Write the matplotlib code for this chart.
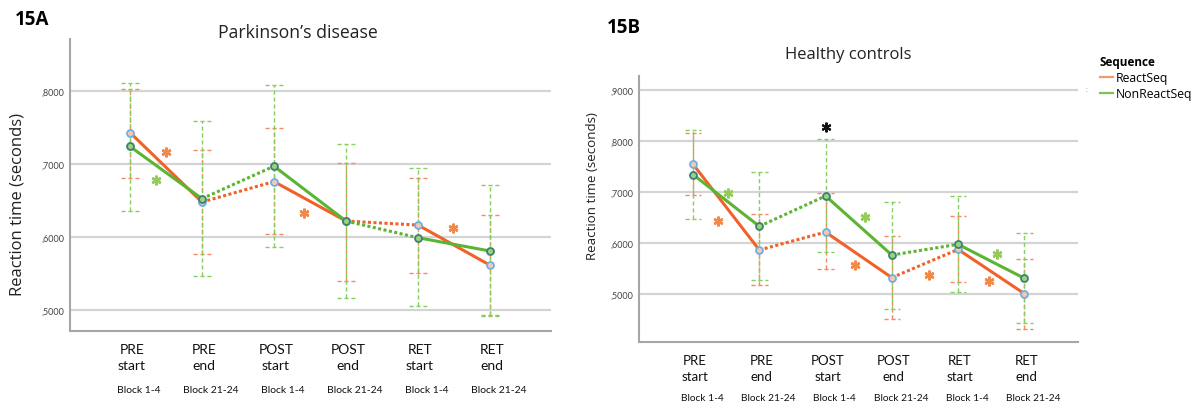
import matplotlib
matplotlib.use("Agg")
import matplotlib.pyplot as plt
import matplotlib.transforms as mtransforms
from matplotlib.lines import Line2D
from matplotlib.ticker import FixedLocator, FuncFormatter

plt.rcParams['font.family'] = ['Lato', 'DejaVu Sans']

# session labels shared by both panels
phases = ['PRE\nstart', 'PRE\nend', 'POST\nstart', 'POST\nend', 'RET\nstart', 'RET\nend']
blocks = ['Block 1-4', 'Block 21-24', 'Block 1-4', 'Block 21-24', 'Block 1-4', 'Block 21-24']

# 15A  Parkinson's disease: means and CI bounds (seconds)
pd_react = [0.743, 0.648, 0.676, 0.622, 0.6165, 0.5616]
pd_react_lo = [0.681, 0.5773, 0.604, 0.540, 0.551, 0.493]
pd_react_hi = [0.803, 0.7188, 0.749, 0.701, 0.681, 0.6307]
pd_non = [0.724, 0.6526, 0.697, 0.622, 0.5992, 0.581]
pd_non_lo = [0.636, 0.5475, 0.587, 0.517, 0.5055, 0.4918]
pd_non_hi = [0.8115, 0.759, 0.8078, 0.728, 0.6945, 0.671]
# significance markers (x, y, colour key)
pd_stars = [(0.50, 0.7165, 'react'), (0.36, 0.678, 'non'),
            (2.42, 0.6325, 'react'), (4.48, 0.613, 'react')]

# 15B  Healthy controls
hc_react = [0.755, 0.5869, 0.622, 0.5327, 0.588, 0.5013]
hc_react_lo = [0.694, 0.519, 0.5504, 0.451, 0.525, 0.4327]
hc_react_hi = [0.817, 0.658, 0.6994, 0.6144, 0.6536, 0.570]
hc_non = [0.7347, 0.6333, 0.6928, 0.577, 0.598, 0.5314]
hc_non_lo = [0.647, 0.5275, 0.583, 0.4706, 0.5045, 0.443]
hc_non_hi = [0.8216, 0.740, 0.804, 0.681, 0.693, 0.621]
hc_stars = [(0.53, 0.698, 'non'), (0.37, 0.6437, 'react'), (2.00, 0.8288, 'black'),
            (2.60, 0.652, 'non'), (2.45, 0.5575, 'react'), (3.56, 0.5379, 'react'),
            (4.59, 0.580, 'non'), (4.46, 0.526, 'react')]

ORANGE = '#f0622a'
GREEN = '#5bb532'
ORANGE_EB = '#f58a5e'
GREEN_EB = '#86d060'
STAR = {'react': '#f08a4b', 'non': '#93cc5a', 'black': '#111111'}

fig = plt.figure(figsize=(12.04, 4.06), dpi=100)
W, H = 1204, 406


def px_axes(l, t, r, b):
    return fig.add_axes([l / W, 1 - b / H, (r - l) / W, (b - t) / H])


def draw_panel(ax, react, rlo, rhi, non, nlo, nhi, stars, ylim, yticks,
               xlim, lab_fs, blk_fs, lab_dy, blk_dy, cap):
    x = list(range(len(react)))

    for v in yticks:
        ax.axhline(v, color='#d4d4d4', lw=1.6, zorder=0)

    # dashed confidence intervals with dashed caps
    for lo, hi, col in ((rlo, rhi, ORANGE_EB), (nlo, nhi, GREEN_EB)):
        ax.vlines(x, lo, hi, colors=col, linestyles=(0, (3, 2)), lw=1.0, zorder=2)
        xs = [xi - cap for xi in x]
        xe = [xi + cap for xi in x]
        ax.hlines(lo, xs, xe, colors=col, linestyles=(0, (3, 2)), lw=1.0, zorder=2)
        ax.hlines(hi, xs, xe, colors=col, linestyles=(0, (3, 2)), lw=1.0, zorder=2)

    # solid within a session, dotted between sessions
    for y, col in ((react, ORANGE), (non, GREEN)):
        for i in range(len(x) - 1):
            ls = '-' if i % 2 == 0 else (0, (1, 0.8))
            ax.plot(x[i:i + 2], y[i:i + 2], color=col, lw=2.2, ls=ls,
                    solid_capstyle='round', zorder=3)
    ax.plot(x, react, ls='none', marker='o', ms=5, mfc='#f7c8b0', mec='#6cb0e4',
            mew=1.3, zorder=4)
    ax.plot(x, non, ls='none', marker='o', ms=5, mfc='#9bd27a', mec='#3c7f74',
            mew=1.3, zorder=4)

    for sx, sy, key in stars:
        ax.plot(sx, sy, ls='none', marker=(6, 2, 0), ms=7, mec=STAR[key],
                mew=1.8 if key != 'black' else 1.5, zorder=5)

    ax.set_xlim(*xlim)
    ax.set_ylim(*ylim)
    ax.yaxis.set_major_locator(FixedLocator(yticks))
    ax.yaxis.set_major_formatter(FuncFormatter(lambda v, p: ',' + f'{v:.4f}'.split('.')[1]))
    ax.tick_params(axis='y', length=0, pad=4, labelsize=6.5, labelcolor='#444444')
    ax.set_xticks([])
    for s in ('top', 'right'):
        ax.spines[s].set_visible(False)
    for s in ('left', 'bottom'):
        ax.spines[s].set_color('#a6a6a6')
        ax.spines[s].set_linewidth(1.5)

    lab_tr = mtransforms.offset_copy(ax.get_xaxis_transform(), fig=fig, x=2, y=-lab_dy, units='dots')
    blk_tr = mtransforms.offset_copy(ax.get_xaxis_transform(), fig=fig, x=9, y=-blk_dy, units='dots')
    for xi, lab, blk in zip(x, phases, blocks):
        ax.text(xi, 0, lab, transform=lab_tr, ha='center', va='top', fontsize=lab_fs,
                linespacing=1.45, color='#111111')
        ax.text(xi, 0, blk, transform=blk_tr, ha='center', va='center', fontsize=blk_fs,
                color='#111111')


axA = px_axes(70, 40, 551, 332)
draw_panel(axA, pd_react, pd_react_lo, pd_react_hi, pd_non, pd_non_lo, pd_non_hi, pd_stars,
           ylim=(0.4716, 0.871), yticks=[0.5, 0.6, 0.7, 0.8], xlim=(-0.833, 5.847),
           lab_fs=10, blk_fs=7.5, lab_dy=12, blk_dy=59, cap=0.125)
axB = px_axes(639, 77, 1078, 343)
draw_panel(axB, hc_react, hc_react_lo, hc_react_hi, hc_non, hc_non_lo, hc_non_hi, hc_stars,
           ylim=(0.4065, 0.928), yticks=[0.5, 0.6, 0.7, 0.8, 0.9], xlim=(-0.816, 5.81),
           lab_fs=9.5, blk_fs=7.3, lab_dy=12, blk_dy=56, cap=0.125)

fig.text(18 / W, 1 - 205 / H, 'Reaction time (seconds)', rotation=90, ha='center', va='center',
         fontsize=12, family=['Open Sans', 'DejaVu Sans'], color='#222222')
fig.text(593 / W, 1 - 186 / H, 'Reaction time (seconds)', rotation=90, ha='center', va='center',
         fontsize=9.6, family=['Open Sans', 'DejaVu Sans'], color='#222222')

fig.text(298 / W, 1 - 33 / H, 'Parkinson\u2019s disease', ha='center', va='center',
         fontsize=12.7, family=['Open Sans', 'DejaVu Sans'], color='#222222')
fig.text(848 / W, 1 - 55 / H, 'Healthy controls', ha='center', va='center',
         fontsize=12, family=['Open Sans', 'DejaVu Sans'], color='#222222')
fig.text(15 / W, 1 - 20 / H, '15A', ha='left', va='center', fontsize=13.5, fontweight='bold',
         family=['Open Sans', 'DejaVu Sans'])
fig.text(607 / W, 1 - 28 / H, '15B', ha='left', va='center', fontsize=13.5, fontweight='bold',
         family=['Open Sans', 'DejaVu Sans'])
fig.text(1086 / W, 1 - 89 / H, ':', ha='center', va='center', fontsize=5, color='#999999')

handles = [Line2D([], [], color='#f4996a', lw=1.6), Line2D([], [], color='#7cc45a', lw=1.6)]
leg = fig.legend(handles, ['ReactSeq', 'NonReactSeq'], title='Sequence', loc='upper left',
                 bbox_to_anchor=(1100 / W, 1 - 56 / H), frameon=False, handlelength=1.1,
                 handletextpad=0.15, labelspacing=0.25, borderpad=0, borderaxespad=0,
                 prop={'family': ['Open Sans', 'DejaVu Sans'], 'size': 8.8},
                 title_fontproperties={'family': ['Open Sans', 'DejaVu Sans'],
                                       'size': 8.5, 'weight': 'bold'})
leg._legend_box.align = 'left'

fig.savefig('out.png', dpi=100)
